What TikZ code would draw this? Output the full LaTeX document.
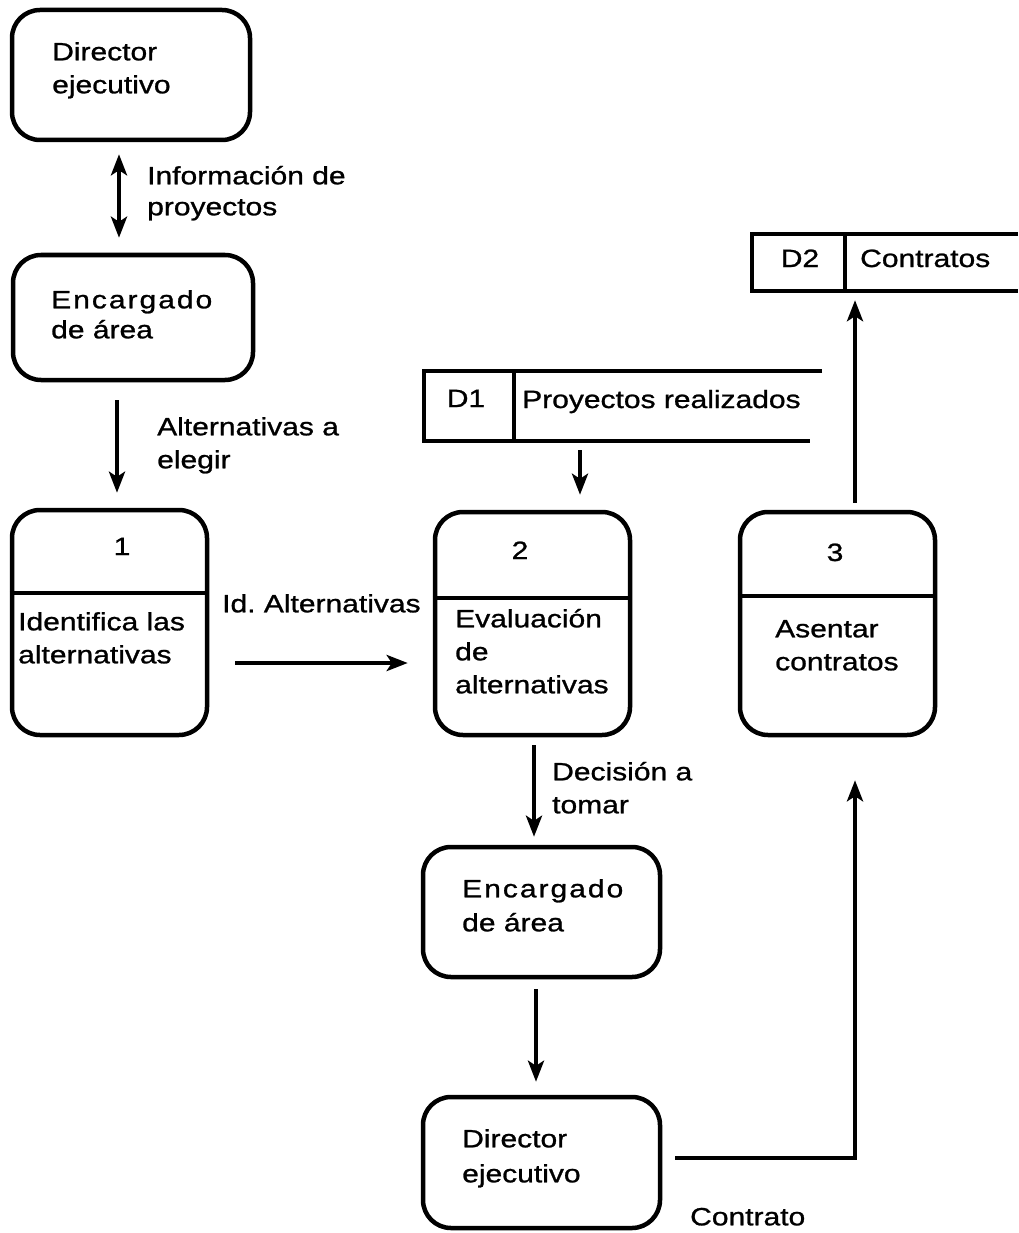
\documentclass[tikz,border=0pt]{standalone}
\usepackage{fontspec}
\setmainfont{Liberation Sans}[FakeStretch=1.2,FakeBold=1]
\usetikzlibrary{arrows.meta}
\newcommand\spacedword[1]{{\addfontfeature{LetterSpace=8}#1}}
\begin{document}
\begin{tikzpicture}[x=1pt,y=-1pt,
  box/.style={draw, line width=4.5pt, rounded corners=28pt, inner sep=0pt},
  store/.style={inner sep=0pt},
  ln/.style={line width=4.5pt},
  dv/.style={line width=3.5pt},
  arr/.style={line width=4.5pt, -{Stealth[length=21pt,width=16pt,inset=5pt]}},
  arrd/.style={line width=4.5pt, {Stealth[length=21pt,width=16pt,inset=5pt]}-{Stealth[length=21pt,width=16pt,inset=5pt]}},
  txt/.style={anchor=north west, inner sep=0pt, align=left, font=\fontsize{25}{33}\selectfont},
  lab/.style={inner sep=0pt, font=\fontsize{25}{33}\selectfont}]
\useasboundingbox (0,0) rectangle (1018,1233);

% coordinates for connector alignment
\coordinate (a0) at (119,0);
\coordinate (a1) at (117,0);
\coordinate (a2) at (580,0);
\coordinate (a3) at (855,0);
\coordinate (a4) at (534,0);
\coordinate (a5) at (536,0);
\coordinate (h1) at (0,663);
\coordinate (h4) at (0,1158);

% Director ejecutivo (top)
\node[box, minimum width=238pt, minimum height=130pt] (de1) at (131,75) {};
\node[txt] (de1t) at (52,37) {\strut Director\\ejecutivo};

% Encargado de area (top)
\node[box, minimum width=240pt, minimum height=125pt] (ea1) at (133,317.5) {};
\node[txt] (ea1t) at (51,285) {\strut\spacedword{Encargado}\\[-3pt]de área};

% Process 1
\node[box, minimum width=195pt, minimum height=225pt] (p1) at (109.5,622.5) {};
\draw[dv] ([yshift=-85pt]p1.north west) -- ([yshift=-85pt]p1.north east);
\node[lab, anchor=base] (p1n) at (122,555) {1};
\node[txt] (p1t) at (18,607) {\strut Identifica las\\alternativas};

% Process 2
\node[box, minimum width=195pt, minimum height=223pt] (p2) at (532.5,623.5) {};
\draw[dv] ([yshift=-88pt]p2.north west) -- ([yshift=-88pt]p2.north east);
\node[lab, anchor=base] (p2n) at (520,559) {2};
\node[txt] (p2t) at (455,604) {\strut Evaluación\\de\\alternativas};

% Process 3
\node[box, minimum width=195pt, minimum height=223pt] (p3) at (837.5,623.5) {};
\draw[dv] ([yshift=-86pt]p3.north west) -- ([yshift=-86pt]p3.north east);
\node[lab, anchor=base] (p3n) at (835,561) {3};
\node[txt] (p3t) at (775,614) {\strut Asentar\\contratos};

% Data store D1
\node[store, minimum width=398pt, minimum height=70pt] (d1) at (623,406) {};
\draw[ln] (d1.north east) -- (d1.north west) -- (d1.south west) -- ([xshift=-12pt]d1.south east);
\draw[ln] ([xshift=90pt]d1.north west) -- ([xshift=90pt]d1.south west);
\node[lab, anchor=base] (d1n) at (466,407) {D1};
\node[lab, anchor=base west] (d1t) at (522,408) {Proyectos realizados};

% Data store D2
\node[store, minimum width=266pt, minimum height=57pt] (d2) at (885,262.5) {};
\draw[ln] (d2.north east) -- (d2.north west) -- (d2.south west) -- (d2.south east);
\draw[ln] ([xshift=93pt]d2.north west) -- ([xshift=93pt]d2.south west);
\node[lab, anchor=base] (d2n) at (800,267) {D2};
\node[lab, anchor=base west] (d2t) at (860,267) {Contratos};

% Encargado de area (bottom)
\node[box, minimum width=237pt, minimum height=130pt] (ea2) at (541.5,912) {};
\node[txt] (ea2t) at (462,874) {\strut\spacedword{Encargado}\\[1pt]de área};

% Director ejecutivo (bottom)
\node[box, minimum width=237pt, minimum height=131pt] (de2) at (541.5,1162.5) {};
\node[txt] (de2t) at (462,1124) {\strut Director\\[2pt]ejecutivo};

% Connectors
\draw[arrd, shorten <=12pt, shorten >=15pt] (de1.south -| a0) -- (ea1.north -| a0);
\node[txt] (l0) at (147,161) {\strut Información de\\[-2pt]proyectos};

\draw[arr, shorten <=18pt, shorten >=15pt] (ea1.south -| a1) -- (p1.north -| a1);
\node[txt] (l1) at (157,412) {\strut Alternativas a\\elegir};

\draw[arr, shorten <=26pt, shorten >=25pt] (p1.east |- h1) -- (p2.west |- h1);
\node[txt] (l2) at (222,589) {\strut Id.\ Alternativas};

\draw[arr, shorten <=9pt, shorten >=15pt] (d1.south -| a2) -- (p2.north -| a2);

\draw[arr, shorten <=7pt, shorten >=9pt] (p3.north -| a3) -- (d2.south -| a3);

\draw[arr, shorten <=8pt, shorten >=8pt] (p2.south -| a4) -- (ea2.north -| a4);
\node[txt] (l4) at (552,757) {\strut Decisión a\\tomar};

\draw[arr, shorten <=10pt, shorten >=13pt] (ea2.south -| a5) -- (de2.north -| a5);

\draw[arr, shorten <=13pt, shorten >=43pt] (de2.east |- h4) -- (a3 |- h4) -- (p3.south -| a3);
\node[txt] (l6) at (690,1202) {\strut Contrato};
\end{tikzpicture}
\end{document}
